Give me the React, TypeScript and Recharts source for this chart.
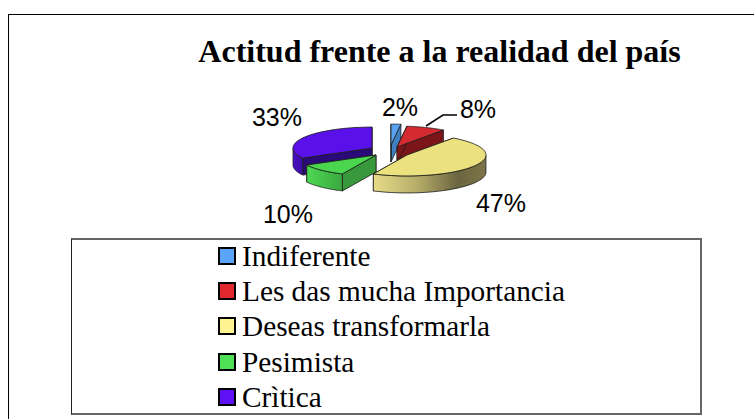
import React from 'react';
import { PieChart, Pie, Legend } from 'recharts';

const categories = ['Indiferente', 'Les das mucha Importancia', 'Deseas transformarla', 'Pesimista', 'Crìtica'];
const values = [2, 8, 47, 10, 33];
const title = 'Actitud frente a la realidad del país';

const TOP_COLORS = ['#5aa2ef', '#d42b30', '#ece17f', '#4bd650', '#5a10e8'];
const LEGEND_COLORS = ['#5aa5fa', '#e0282e', '#fff490', '#4ee055', '#6010f5'];
const EDGE_COLORS = ['#3f7fc0', '#7c1519', '#6b6540', '#37993b', '#2a0a78'];
const WALL_FILLS = ['#4a8cd0', '#8a1a1e', 'url(#yellowWall)', 'url(#greenWall)', 'url(#purpleWall)'];

// how far each slice is pulled out of the pie, and where its label sits
const EXPLODE = [[5, -6], [11, -4], [21, 4], [-10, 4], [-14, -3]];
const LABEL_POS = [[400, 108], [478, 110], [501, 204], [288, 215], [277, 118]];

const CX = 381;
const CY = 146;
const RADIUS = 79;
const TILT = 0.265;
const DEPTH = 17;

const data = categories.map((name, i) => ({ name, value: values[i], fill: TOP_COLORS[i] }));

const project = (deg: number, r: number) => {
  const a = (deg * Math.PI) / 180;
  return [r * Math.cos(a), -r * Math.sin(a) * TILT];
};

const toPath = (pts: number[][]) => pts.map((p, i) => `${i ? 'L' : 'M'}${p[0].toFixed(2)} ${p[1].toFixed(2)}`).join(' ') + ' Z';

// one flat sector from the library turned into a tilted slab
const Slab = (props: any, only: (i: number) => boolean) => {
  const i = categories.indexOf(props.name);
  if (!only(i)) return <g />;
  const { startAngle, endAngle, cx, cy, outerRadius } = props;
  const lo = Math.min(startAngle, endAngle);
  const hi = Math.max(startAngle, endAngle);
  const arc: number[] = [];
  const steps = 48;
  for (let s = 0; s <= steps; s++) arc.push(lo + ((hi - lo) * s) / steps);
  const top = [[0, 0], ...arc.map((d) => project(d, outerRadius))];
  const front = arc.filter((d) => Math.sin((d * Math.PI) / 180) < 0).map((d) => project(d, outerRadius));
  const wall = (p: number[]) => toPath([[0, 0], p, [p[0], p[1] + DEPTH], [0, DEPTH]]);
  const x = cx + EXPLODE[i][0];
  const y = cy + EXPLODE[i][1];
  return (
    <g transform={`translate(${x} ${y})`} stroke="#1a1a1a" strokeWidth={0.8} strokeLinejoin="round">
      <path d={wall(project(lo, outerRadius))} fill={EDGE_COLORS[i]} />
      <path d={wall(project(hi, outerRadius))} fill={EDGE_COLORS[i]} />
      {front.length > 1 && (
        <path d={toPath([...front, ...front.slice().reverse().map((p) => [p[0], p[1] + DEPTH])])} fill={WALL_FILLS[i]} />
      )}
      <path d={toPath(top)} fill={TOP_COLORS[i]} />
    </g>
  );
};

const SliceLabel = (props: any) => {
  const i = categories.indexOf(props.name);
  return (
    <g>
      {i === 1 && <polyline points="426,126 443,115 457,115" fill="none" stroke="#000" strokeWidth={1.5} />}
      <text x={LABEL_POS[i][0]} y={LABEL_POS[i][1] + 8} textAnchor="middle" fontFamily="Liberation Sans" fontSize={25} fill="#000">
        {`${props.value}%`}
      </text>
    </g>
  );
};

const LegendBox = ({ payload }: any) => (
  <div style={{ width: 631, height: 177, borderTop: '2px solid #666', borderRight: '2px solid #666', borderBottom: '2px solid #666', borderLeft: '1.5px solid #222', boxSizing: 'border-box', paddingLeft: 146, background: '#fff' }}>
    <div style={{ marginTop: -2 }}>
      {(payload || []).map((item: any, i: number) => (
        <div key={item.value} style={{ height: 35.3, display: 'flex', alignItems: 'center', fontFamily: 'Liberation Serif', fontSize: 29.3, lineHeight: '34px', color: '#000', whiteSpace: 'nowrap' }}>
          <span style={{ width: 18, height: 18, boxSizing: 'border-box', border: '2.5px solid #000', background: LEGEND_COLORS[i], marginRight: 6, flexShrink: 0 }} />
          <span>{item.value}</span>
        </div>
      ))}
    </div>
  </div>
);

export default function App() {
  return (
    <div style={{ position: 'absolute', left: 0, top: 0, width: 754, height: 419, background: '#fff' }}>
      {/* only the top and left edges of the outer frame are in the picture */}
      <div style={{ position: 'absolute', left: 8, top: 14, width: 746, height: 405, borderTop: '1.5px solid #000', borderLeft: '1.5px solid #000', boxSizing: 'border-box' }} />
      <div style={{ position: 'absolute', left: 8, width: 863, top: 33, textAlign: 'center', fontFamily: 'Liberation Serif', fontWeight: 700, fontSize: 32, lineHeight: '36px', whiteSpace: 'nowrap' }}>
        {title}
      </div>
      <PieChart width={754} height={419} style={{ position: 'absolute', left: 0, top: 0 }}>
        <defs>
          <linearGradient id="yellowWall" x1="0" y1="0" x2="1" y2="0">
            <stop offset="0%" stopColor="#e8dc88" />
            <stop offset="40%" stopColor="#b5ab68" />
            <stop offset="75%" stopColor="#6b6540" />
            <stop offset="100%" stopColor="#7c7548" />
          </linearGradient>
          <linearGradient id="greenWall" x1="0" y1="0" x2="1" y2="0">
            <stop offset="0%" stopColor="#4ed853" />
            <stop offset="100%" stopColor="#3aa83f" />
          </linearGradient>
          <linearGradient id="purpleWall" x1="0" y1="0" x2="1" y2="0">
            <stop offset="0%" stopColor="#4a10c8" />
            <stop offset="100%" stopColor="#3a0ca0" />
          </linearGradient>
        </defs>
        {/* the purple slab has to sit behind the green one */}
        <Pie
          data={data}
          dataKey="value"
          nameKey="name"
          cx={CX}
          cy={CY}
          outerRadius={RADIUS}
          startAngle={90}
          endAngle={-270}
          legendType="none"
          isAnimationActive={false}
          shape={(p: any) => Slab(p, (i) => i === 4)}
        />
        <Pie
          data={data}
          dataKey="value"
          nameKey="name"
          cx={CX}
          cy={CY}
          outerRadius={RADIUS}
          startAngle={90}
          endAngle={-270}
          isAnimationActive={false}
          label={SliceLabel}
          labelLine={false}
          shape={(p: any) => Slab(p, (i) => i !== 4)}
        />
        <Legend content={LegendBox} layout="vertical" itemSorter={null} wrapperStyle={{ position: 'absolute', left: 71, top: 238, bottom: 'auto', width: 631, height: 177 }} />
      </PieChart>
    </div>
  );
}
